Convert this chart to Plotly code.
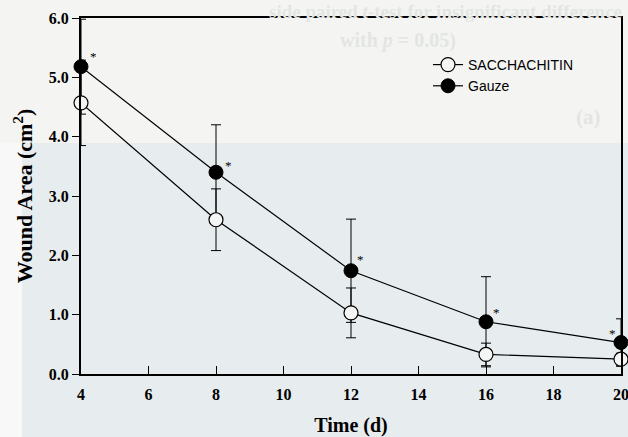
import plotly.graph_objects as go

# ---- data ----
days = [4, 8, 12, 16, 20]
sacchachitin = [4.57, 2.60, 1.03, 0.33, 0.25]
sacchachitin_err = [0.72, 0.52, 0.42, 0.19, 0.10]
gauze = [5.18, 3.40, 1.74, 0.88, 0.53]
gauze_err = [0.80, 0.80, 0.87, 0.76, 0.40]
x_ticks = [4, 6, 8, 10, 12, 14, 16, 18, 20]
y_ticks = [0, 1, 2, 3, 4, 5, 6]

W, H = 628, 437
L, R, T, B = 81, 7, 18, 63

def px(xp):
    return (xp - L) / (W - L - R)

def py(yp):
    return (H - B - yp) / (H - T - B)

serif = "Liberation Serif"
sans = "Liberation Sans"

fig = go.Figure()

fig.add_trace(go.Scatter(
    x=days, y=gauze, name="Gauze", mode="lines+markers",
    line=dict(color="black", width=1.2),
    marker=dict(symbol="circle", size=14, color="black", line=dict(color="black", width=1)),
    error_y=dict(type="data", array=gauze_err, visible=True, color="black", thickness=1, width=5),
    cliponaxis=False, legendrank=2,
))
fig.add_trace(go.Scatter(
    x=days, y=sacchachitin, name="SACCHACHITIN", mode="lines+markers",
    line=dict(color="black", width=1.2),
    marker=dict(symbol="circle", size=14, color="#f4f6f5", line=dict(color="black", width=1.2)),
    error_y=dict(type="data", array=sacchachitin_err, visible=True, color="black", thickness=1, width=5),
    cliponaxis=False, legendrank=1,
))

# significance stars next to Gauze points
star_shift = [(12, 10), (12, 7), (9, 11), (10, 9), (-9, 9)]
for d, g, (sx, sy) in zip(days, gauze, star_shift):
    fig.add_annotation(x=d, y=g, text="*", showarrow=False, xshift=sx, yshift=sy,
                       font=dict(family=serif, size=13, color="black"))

# paper-like background regions
shapes = [
    dict(type="rect", xref="paper", yref="paper", x0=px(22), x1=px(W + 5), y0=py(H + 5), y1=py(143),
         fillcolor="#e7ecee", line=dict(width=0), layer="below"),
    dict(type="rect", xref="paper", yref="paper", x0=px(-5), x1=px(22), y0=py(H + 5), y1=py(143),
         fillcolor="#f7f8f7", line=dict(width=0), layer="below"),
]

# faint bleed-through text of the scanned page
ghost = "#e3e5e3"
fig.add_annotation(xref="paper", yref="paper", x=px(624), y=py(11), xanchor="right", yanchor="middle",
                   text="<b>side paired <i>t</i>-test for insignificant difference</b>", showarrow=False,
                   font=dict(family=serif, size=19, color=ghost))
fig.add_annotation(xref="paper", yref="paper", x=px(398), y=py(40), xanchor="center", yanchor="middle",
                   text="<b>with <i>p</i> = 0.05)</b>", showarrow=False,
                   font=dict(family=serif, size=20, color=ghost))
fig.add_annotation(xref="paper", yref="paper", x=px(588), y=py(117), xanchor="center", yanchor="middle",
                   text="<b>(a)</b>", showarrow=False,
                   font=dict(family=serif, size=21, color=ghost))

fig.update_layout(
    width=W, height=H,
    margin=dict(l=L, r=R, t=T, b=B, autoexpand=False),
    paper_bgcolor="#f4f5f3",
    plot_bgcolor="rgba(0,0,0,0)",
    shapes=shapes,
    showlegend=True,
    legend=dict(x=px(428), y=py(49), xanchor="left", yanchor="top",
                bgcolor="rgba(0,0,0,0)", font=dict(family=sans, size=14, color="black"),
                itemwidth=30, tracegroupgap=0),
    xaxis=dict(range=[4, 20], tickvals=x_ticks, ticktext=[str(v) for v in x_ticks],
               ticks="inside", ticklen=8, tickwidth=1, tickcolor="black",
               showline=True, linecolor="black", linewidth=2, mirror=True,
               showgrid=False, zeroline=False, automargin=False, ticklabeloverflow="allow",
               ticklabelstandoff=5,
               tickfont=dict(family=serif, size=16, color="black", weight="bold"),
               title=dict(text="<b>Time (d)</b>", font=dict(family=serif, size=20, color="black"), standoff=18)),
    yaxis=dict(range=[0, 6], tickvals=y_ticks, tickformat=".1f",
               ticks="outside", ticklen=7, tickwidth=1, tickcolor="black",
               showline=True, linecolor="black", linewidth=2, mirror=True,
               showgrid=False, zeroline=False, automargin=False,
               tickfont=dict(family=serif, size=16, color="black", weight="bold"),
               title=dict(text="<b>Wound Area (cm<sup>2</sup>)</b>", font=dict(family=serif, size=22, color="black"), standoff=10)),
)

fig.write_html("out.html", config={"displayModeBar": False},
               post_script="document.body.style.margin='0px';document.body.style.overflow='hidden';document.body.style.background='#f4f5f3';")
